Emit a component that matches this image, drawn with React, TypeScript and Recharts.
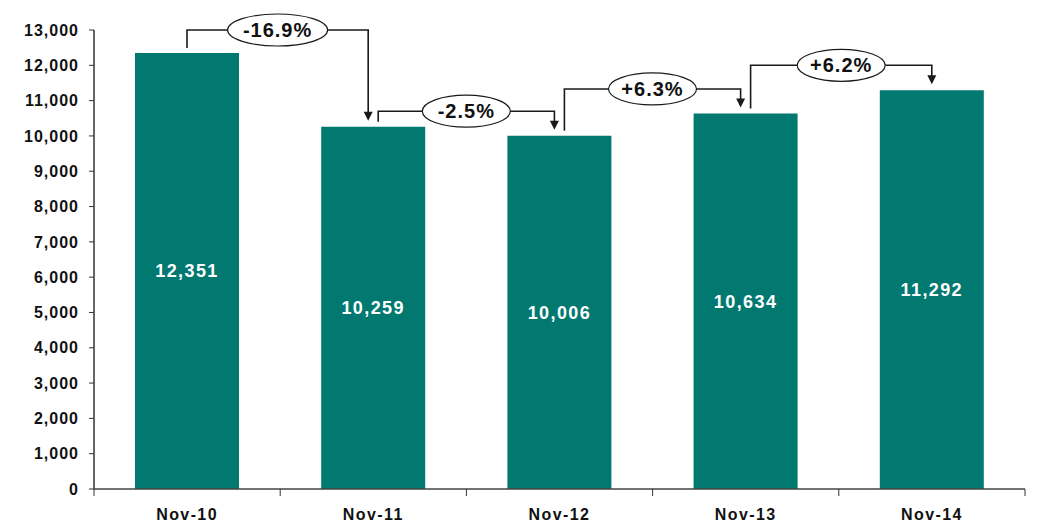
import React from "react";
import { Bar, BarChart, LabelList, XAxis, YAxis } from "recharts";

const months = ["Nov-10", "Nov-11", "Nov-12", "Nov-13", "Nov-14"];
const counts = [12351, 10259, 10006, 10634, 11292];
const changes = ["-16.9%", "-2.5%", "+6.3%", "+6.2%"];
// height (in data units) of each year-on-year bracket
const bracketLevels = [13000, 10700, 11330, 12000];
const yTicks = [0, 1000, 2000, 3000, 4000, 5000, 6000, 7000, 8000, 9000, 10000, 11000, 12000, 13000];

const data = months.map((m, i) => ({ month: m, value: counts[i] }));

const W = 1042;
const H = 528;
const MARGIN = { top: 30, right: 17, bottom: 0, left: 0 };
const Y_W = 94;
const BAND = (W - Y_W - MARGIN.right) / months.length;
const TEAL = "#027970";
const INK = "#1a1a1a";
const FONT = "'Liberation Sans', Arial, sans-serif";

const fmt = (v: number) => v.toLocaleString("en-US");

function XTick(props: any) {
  const { x, y, payload, index } = props;
  const left = x - BAND / 2;
  const top = y - 8;
  return (
    <g>
      <line x1={left} x2={left} y1={top} y2={top + 7} stroke="#333" />
      {index === months.length - 1 && (
        <line x1={left + BAND} x2={left + BAND} y1={top} y2={top + 7} stroke="#333" />
      )}
      <text
        x={x}
        y={y + 23}
        textAnchor="middle"
        fontFamily={FONT}
        fontWeight="bold"
        fontSize={16}
        letterSpacing={1.4}
        fill="#111"
      >
        {payload.value}
      </text>
    </g>
  );
}

function Bracket(props: any) {
  const { x, y, width, height, index } = props;
  if (index >= changes.length) return null;
  const value = counts[index];
  const bottom = y + height;
  const ratio = height / value;
  const cx = x + width / 2;
  const srcX = cx + (index > 0 ? 5 : 0);
  const tgtX = cx + BAND - (index + 1 < changes.length ? 5 : 0);
  const levelY = bottom - bracketLevels[index] * ratio;
  const nextTop = bottom - counts[index + 1] * ratio;
  const tipY = nextTop - 6;
  const label = changes[index];
  const midX = (srcX + tgtX) / 2;
  const rx = (label.length * 12 + 28) / 2;
  return (
    <g>
      <polyline
        points={`${srcX},${y - 5} ${srcX},${levelY} ${tgtX},${levelY} ${tgtX},${tipY - 8}`}
        fill="none"
        stroke={INK}
        strokeWidth={1.6}
      />
      <polygon
        points={`${tgtX - 4.5},${tipY - 9} ${tgtX + 4.5},${tipY - 9} ${tgtX},${tipY}`}
        fill={INK}
      />
      <ellipse cx={midX} cy={levelY} rx={rx} ry={16} fill="#fff" stroke={INK} strokeWidth={1.2} />
      <text
        x={midX}
        y={levelY + 7}
        textAnchor="middle"
        fontFamily={FONT}
        fontWeight="bold"
        fontSize={20}
        letterSpacing={1}
        fill="#111"
      >
        {label}
      </text>
    </g>
  );
}

export default function App() {
  return (
    <div style={{ width: W, height: H, background: "#fff" }}>
      <style>{`body{margin:0}`}</style>
      <BarChart width={W} height={H} data={data} margin={MARGIN}>
        <XAxis
          dataKey="month"
          axisLine={{ stroke: "#444", strokeWidth: 1.5 }}
          tickLine={false}
          tick={<XTick />}
          height={39}
          interval={0}
        />
        <YAxis
          width={Y_W}
          domain={[0, 13000]}
          ticks={yTicks}
          tickFormatter={fmt}
          axisLine={{ stroke: "#333", strokeWidth: 1.5 }}
          tickLine={{ stroke: "#333" }}
          tickSize={5}
          tickMargin={10}
          tick={{
            fill: "#111",
            fontFamily: FONT,
            fontWeight: "bold",
            fontSize: 16,
            letterSpacing: 1,
          }}
          interval={0}
        />
        <Bar dataKey="value" fill={TEAL} barSize={104} isAnimationActive={false}>
          <LabelList
            dataKey="value"
            position="center"
            formatter={(v: any) => fmt(Number(v))}
            fill="#fff"
            fontFamily={FONT}
            fontWeight="bold"
            fontSize={18}
            letterSpacing={1.4}
          />
          <LabelList dataKey="value" content={<Bracket />} />
        </Bar>
      </BarChart>
    </div>
  );
}
